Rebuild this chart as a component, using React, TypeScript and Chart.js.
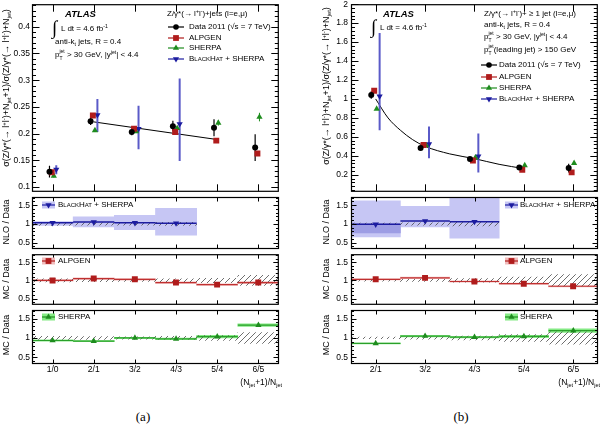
import React, { useEffect, useRef } from 'react';
import { Chart, registerables } from 'chart.js';

Chart.register(...registerables);

const FONT = '"Liberation Sans", Arial, Helvetica, sans-serif';
const SERIF = '"Liberation Serif", "DejaVu Serif", serif';

// ---------------- categories ----------------
const catsA = ['1/0', '2/1', '3/2', '4/3', '5/4', '6/5'];
const binsA = [1, 2, 3, 4, 5, 6];
const catsB = ['2/1', '3/2', '4/3', '5/4', '6/5'];
const binsB = [2, 3, 4, 5, 6];
const nloBinsA = [1, 2, 3, 4];
const nloBinsB = [2, 3, 4];
const innerBinB = [2];

// ---------------- tick labels ----------------
const mainATicks = [0.1, 0.15, 0.2, 0.25, 0.3, 0.35, 0.4];
const mainATickLabels = ['0.1', '0.15', '0.2', '0.25', '0.3', '0.35', '0.4'];
const mainBTicks = [0.2, 0.4, 0.6, 0.8, 1, 1.2, 1.4, 1.6, 1.8, 2];
const mainBTickLabels = ['0.2', '0.4', '0.6', '0.8', '1', '1.2', '1.4', '1.6', '1.8', '2'];
const ratioTicks = [0.5, 1, 1.5];
const ratioTickLabels = ['0.5', '1', '1.5'];

// ---------------- (a) main panel ----------------
const dataA = [0.129, 0.223, 0.203, 0.214, 0.211, 0.174];
const dataAErr = [0.011, 0.007, 0.006, 0.010, 0.016, 0.025];
const alpgenA = [0.128, 0.234, 0.209, 0.203, 0.187, 0.163];
const sherpaA = [0.121, 0.206, 0.204, 0.210, 0.220, 0.231];
const sherpaAErr = [0.003, 0.003, 0.003, 0.004, 0.005, 0.008];
const blackhatA = [0.133, 0.235, 0.209, 0.218];
const blackhatALo = [0.124, 0.203, 0.171, 0.149];
const blackhatAHi = [0.141, 0.265, 0.252, 0.303];
const fitAX = [2, 5];
const fitAY = [0.222, 0.189];

// ---------------- (b) main panel ----------------
const dataB = [1.042, 0.482, 0.367, 0.277, 0.27];
const dataBErr = [0.04, 0.015, 0.012, 0.015, 0.045];
const alpgenB = [1.087, 0.513, 0.35, 0.252, 0.225];
const sherpaB = [0.895, 0.51, 0.38, 0.298, 0.322];
const blackhatB = [1.029, 0.524, 0.395];
const blackhatBLo = [0.67, 0.374, 0.225];
const blackhatBHi = [1.697, 0.71, 0.635];
const fitBX = [2, 2.25, 2.5, 2.75, 3, 3.5, 4, 4.5, 5];
const fitBY = [1.0, 0.8, 0.67, 0.57, 0.5, 0.42, 0.37, 0.31, 0.265];

// ---------------- (a) ratio panels ----------------
const hatchAErr = [0.04, 0.035, 0.03, 0.04, 0.06, 0.14];
const nloARatio = [1.03, 1.05, 1.03, 1.02];
const nloALo = [0.96, 0.92, 0.85, 0.70];
const nloAHi = [1.06, 1.19, 1.23, 1.42];
const alpgenARatio = [1.0, 1.05, 1.03, 0.94, 0.885, 0.94];
const alpgenABand = [0.02, 0.02, 0.02, 0.02, 0.02, 0.03];
const sherpaARatio = [0.935, 0.92, 1.0, 0.976, 1.035, 1.33];
const sherpaABand = [0.015, 0.015, 0.015, 0.02, 0.035, 0.035];

// ---------------- (b) ratio panels ----------------
const hatchBErr = [0.02, 0.03, 0.05, 0.09, 0.16];
const nloBRatio = [0.99, 1.08, 1.06];
const nloBLo = [0.65, 0.92, 0.62];
const nloBHi = [1.62, 1.47, 1.75];
const nloBInnerLo = [0.76];
const nloBInnerHi = [1.0];
const alpgenBRatio = [1.03, 1.07, 0.97, 0.91, 0.84];
const alpgenBBand = [0.015, 0.02, 0.02, 0.02, 0.02];
const sherpaBRatio = [0.86, 1.05, 1.02, 1.04, 1.19];
const sherpaBBand = [0.01, 0.02, 0.02, 0.03, 0.045];

// ---------------- colours ----------------
const C_DATA = '#000000';
const C_ALP = '#b01c1c';
const C_SHE = '#1e8c1e';
const C_BH = '#1c1ca0';
const C_BH_ERR = '#5a5ac8';
const C_BH_BAND = '#c6c6f4';
const C_BH_BAND2 = '#9d9de4';
const C_ALP_BAND = '#f1bcbc';
const C_SHE_BAND = '#84ea84';
const C_ALP_LINE = '#c03030';
const C_SHE_LINE = '#2aa02a';

// ---------------- dataset helpers ----------------
const pts = (xs: number[], ys: number[], off = 0) => xs.map((x, i) => ({ x: x + off, y: ys[i] }));

function markerSet(xs: number[], ys: number[], off: number, style: string, color: string, radius: number, rotation = 0) {
  return {
    type: 'scatter', data: pts(xs, ys, off), pointStyle: style, pointRadius: radius,
    pointBackgroundColor: color, pointBorderColor: color, pointBorderWidth: 0, pointRotation: rotation,
    showLine: false, order: 0,
  };
}
function errorSet(xs: number[], lo: number[], hi: number[], off: number, color: string, width: number) {
  const data: any[] = [];
  xs.forEach((x, i) => { data.push({ x: x + off, y: lo[i] }, { x: x + off, y: hi[i] }, { x: x + off, y: null }); });
  return { type: 'line', data, borderColor: color, borderWidth: width, pointRadius: 0, showLine: true, spanGaps: false, fill: false, order: 1 };
}
function stepSet(xs: number[], ys: number[], color: string, width: number) {
  const data: any[] = [];
  xs.forEach((x, i) => { data.push({ x: x - 0.5, y: ys[i] }, { x: x + 0.5, y: ys[i] }, { x: x + 0.5, y: null }); });
  return { type: 'line', data, borderColor: color, borderWidth: width, pointRadius: 0, showLine: true, spanGaps: false, fill: false, order: 2 };
}
function bandSet(xs: number[], lo: number[], hi: number[], color: any, order = 6) {
  return {
    type: 'bar', data: xs.map((x, i) => ({ x, y: [lo[i], hi[i]] })), backgroundColor: color, borderWidth: 0,
    grouped: false, categoryPercentage: 1, barPercentage: 1, clip: 0, order,
  };
}
function aroundSet(xs: number[], c: number[], e: number[], color: any, order = 6) {
  return bandSet(xs, c.map((v, i) => v - e[i]), c.map((v, i) => v + e[i]), color, order);
}
const hatchSet = (xs: number[], e: number[]) => aroundSet(xs, xs.map(() => 1), e, 'HATCH', 5);
function fitSet(xs: number[], ys: number[]) {
  return { type: 'line', data: pts(xs, ys), borderColor: '#000', borderWidth: 1, pointRadius: 0, showLine: true, cubicInterpolationMode: 'monotone', fill: false, order: 3 };
}

let hatchCache: any = null;
function hatch() {
  if (hatchCache) return hatchCache;
  const c = document.createElement('canvas');
  c.width = 6; c.height = 6;
  const g = c.getContext('2d')!;
  g.strokeStyle = '#555'; g.lineWidth = 0.85;
  g.beginPath();
  g.moveTo(0, 6); g.lineTo(6, 0);
  g.moveTo(-3, 3); g.lineTo(3, -3);
  g.moveTo(3, 9); g.lineTo(9, 3);
  g.stroke();
  hatchCache = g.createPattern(c, 'repeat');
  return hatchCache;
}

// ---------------- frame / ticks plugin ----------------
const rootFramePlugin = {
  id: 'rootFrame',
  afterDatasetsDraw(chart: any, _args: any, o: any) {
    const { ctx, chartArea: a } = chart;
    const xs = chart.scales.x, ys = chart.scales.y;
    const L = a.left + 0.5, R = a.right - 0.5, T = a.top + 0.5, B = a.bottom - 0.5;
    ctx.save();
    ctx.strokeStyle = '#000';
    ctx.lineWidth = 1;
    ctx.beginPath();
    const seg = (x1: number, y1: number, x2: number, y2: number) => { ctx.moveTo(x1, y1); ctx.lineTo(x2, y2); };
    const yTick = (v: number, len: number) => {
      const py = Math.round(ys.getPixelForValue(v)) + 0.5;
      seg(L, py, L + len, py); seg(R, py, R - len, py);
    };
    o.yMajor.forEach((v: number) => yTick(v, o.yMajorLen));
    const lo = Math.ceil(ys.min / o.yMinorStep - 1e-6), hi = Math.floor(ys.max / o.yMinorStep + 1e-6);
    for (let k = lo; k <= hi; k++) {
      const v = k * o.yMinorStep;
      if (o.yMajor.some((m: number) => Math.abs(m - v) < 1e-6)) continue;
      yTick(v, o.yMinorLen);
    }
    o.xMajor.forEach((v: number) => {
      const px = Math.round(xs.getPixelForValue(v)) + 0.5;
      seg(px, B, px, B - o.xLen); seg(px, T, px, T + o.xLen);
    });
    ctx.stroke();
    ctx.lineWidth = 1.2;
    ctx.strokeRect(L, T, R - L, B - T);
    ctx.restore();
  },
};

// ---------------- panel specs ----------------
const colA = { left: 0, w: 283, yAxisW: 32, padRight: 1, yPad: 2 };
const colB = { left: 300, w: 302, yAxisW: 51, padRight: 2, yPad: 3 };
const rowMain = { top: 0, h: 196, padTop: 4, padBottom: 2 };
const rowR1 = { top: 193, h: 60, padTop: 1, padBottom: 2 };
const rowR2 = { top: 250, h: 59, padTop: 1, padBottom: 2 };
const rowR3 = { top: 306, h: 71, padTop: 1, padBottom: 0 };
const X_AXIS_H = 13;
const R_MIN = 0.33, R_MAX = 1.72;

const offA = { d: -0.075, a: -0.02, s: 0.03, b: 0.09 };
const offB = { d: -0.09, a: -0.03, s: 0.02, b: 0.08 };

function specs() {
  const ratioCommon = { yMin: R_MIN, yMax: R_MAX, yTicks: ratioTicks, yLabels: ratioTickLabels, yMinorStep: 0.1, yMajorLen: 5, yMinorLen: 2.5, xLen: 4 };
  const A = { xMin: 0.5, xMax: 6.5, xTicks: binsA, xLabels: catsA };
  const B = { xMin: 1.5, xMax: 6.5, xTicks: binsB, xLabels: catsB };
  return [
    {
      col: colA, row: rowMain, ...A, showX: false,
      yMin: 0.0913, yMax: 0.442, yTicks: mainATicks, yLabels: mainATickLabels, yMinorStep: 0.01, yMajorLen: 7, yMinorLen: 3.5, xLen: 7,
      datasets: [
        markerSet(binsA, dataA, offA.d, 'circle', C_DATA, 3),
        markerSet(binsA, alpgenA, offA.a, 'rect', C_ALP, 4.2),
        markerSet(binsA, sherpaA, offA.s, 'triangle', C_SHE, 3.6),
        markerSet(nloBinsA, blackhatA, offA.b, 'triangle', C_BH, 3.6, 180),
        errorSet(binsA, dataA.map((v, i) => v - dataAErr[i]), dataA.map((v, i) => v + dataAErr[i]), offA.d, C_DATA, 1.2),
        errorSet(binsA, sherpaA.map((v, i) => v - sherpaAErr[i]), sherpaA.map((v, i) => v + sherpaAErr[i]), offA.s, C_SHE, 1),
        errorSet(nloBinsA, blackhatALo, blackhatAHi, offA.b, C_BH_ERR, 2),
        fitSet(fitAX, fitAY),
      ],
    },
    {
      col: colA, row: rowR1, ...A, showX: false, ...ratioCommon,
      datasets: [
        bandSet(nloBinsA, nloALo, nloAHi, C_BH_BAND),
        hatchSet(nloBinsA, hatchAErr.slice(0, 4)),
        stepSet(nloBinsA, nloARatio, C_BH, 1.5),
        markerSet(nloBinsA, nloARatio, 0, 'triangle', C_BH, 3.6, 180),
      ],
    },
    {
      col: colA, row: rowR2, ...A, showX: false, ...ratioCommon,
      datasets: [
        aroundSet(binsA, alpgenARatio, alpgenABand, C_ALP_BAND),
        hatchSet(binsA, hatchAErr),
        stepSet(binsA, alpgenARatio, C_ALP_LINE, 1.2),
        markerSet(binsA, alpgenARatio, 0, 'rect', C_ALP, 4.2),
      ],
    },
    {
      col: colA, row: rowR3, ...A, showX: true, ...ratioCommon,
      datasets: [
        aroundSet(binsA, sherpaARatio, sherpaABand, C_SHE_BAND),
        hatchSet(binsA, hatchAErr),
        stepSet(binsA, sherpaARatio, C_SHE_LINE, 1.2),
        markerSet(binsA, sherpaARatio, 0, 'triangle', C_SHE, 3.6),
      ],
    },
    {
      col: colB, row: rowMain, ...B, showX: false,
      yMin: 0.02, yMax: 2.0, yTicks: mainBTicks, yLabels: mainBTickLabels, yMinorStep: 0.04, yMajorLen: 7, yMinorLen: 3.5, xLen: 7,
      datasets: [
        markerSet(binsB, dataB, offB.d, 'circle', C_DATA, 3),
        markerSet(binsB, alpgenB, offB.a, 'rect', C_ALP, 4.2),
        markerSet(binsB, sherpaB, offB.s, 'triangle', C_SHE, 3.6),
        markerSet(nloBinsB, blackhatB, offB.b, 'triangle', C_BH, 3.6, 180),
        errorSet(binsB, dataB.map((v, i) => v - dataBErr[i]), dataB.map((v, i) => v + dataBErr[i]), offB.d, C_DATA, 1.2),
        errorSet(nloBinsB, blackhatBLo, blackhatBHi, offB.b, C_BH_ERR, 2),
        fitSet(fitBX, fitBY),
      ],
    },
    {
      col: colB, row: rowR1, ...B, showX: false, ...ratioCommon,
      datasets: [
        bandSet(nloBinsB, nloBLo, nloBHi, C_BH_BAND, 7),
        bandSet(innerBinB, nloBInnerLo, nloBInnerHi, C_BH_BAND2, 6),
        hatchSet(nloBinsB, hatchBErr.slice(0, 3)),
        stepSet(nloBinsB, nloBRatio, C_BH, 1.5),
        markerSet(nloBinsB, nloBRatio, 0, 'triangle', C_BH, 3.6, 180),
      ],
    },
    {
      col: colB, row: rowR2, ...B, showX: false, ...ratioCommon,
      datasets: [
        aroundSet(binsB, alpgenBRatio, alpgenBBand, C_ALP_BAND),
        hatchSet(binsB, hatchBErr),
        stepSet(binsB, alpgenBRatio, C_ALP_LINE, 1.2),
        markerSet(binsB, alpgenBRatio, 0, 'rect', C_ALP, 4.2),
      ],
    },
    {
      col: colB, row: rowR3, ...B, showX: true, ...ratioCommon,
      datasets: [
        aroundSet(binsB, sherpaBRatio, sherpaBBand, C_SHE_BAND),
        hatchSet(binsB, hatchBErr),
        stepSet(binsB, sherpaBRatio, C_SHE_LINE, 1.2),
        markerSet(binsB, sherpaBRatio, 0, 'triangle', C_SHE, 3.6),
      ],
    },
  ];
}

function buildConfig(p: any): any {
  const datasets = p.datasets.map((d: any) => (d.backgroundColor === 'HATCH' ? { ...d, backgroundColor: hatch() } : d));
  return {
    type: 'scatter',
    data: { datasets },
    options: {
      responsive: false,
      animation: false,
      devicePixelRatio: 1,
      events: [],
      layout: { padding: { left: 0, top: p.row.padTop, right: p.col.padRight, bottom: p.row.padBottom } },
      plugins: {
        legend: { display: false },
        tooltip: { enabled: false },
        rootFrame: {
          yMajor: p.yTicks, yMinorStep: p.yMinorStep, yMajorLen: p.yMajorLen, yMinorLen: p.yMinorLen,
          xMajor: p.xTicks, xLen: p.xLen,
        },
      },
      scales: {
        x: {
          type: 'linear', min: p.xMin, max: p.xMax, offset: false, display: p.showX,
          grid: { display: false, drawTicks: false }, border: { display: false },
          afterBuildTicks: (s: any) => { s.ticks = p.xTicks.map((v: number) => ({ value: v })); },
          afterFit: (s: any) => { if (p.showX) s.height = X_AXIS_H; },
          ticks: {
            autoSkip: false, maxRotation: 0, minRotation: 0, padding: 1, color: '#000',
            font: { family: FONT, size: 8.5 },
            callback: (_v: any, i: number) => p.xLabels[i],
          },
        },
        y: {
          type: 'linear', min: p.yMin, max: p.yMax, display: true,
          grid: { display: false, drawTicks: false }, border: { display: false },
          afterBuildTicks: (s: any) => { s.ticks = p.yTicks.map((v: number) => ({ value: v })); },
          afterFit: (s: any) => { s.width = p.col.yAxisW; },
          ticks: {
            autoSkip: false, padding: p.col.yPad, color: '#000',
            font: { family: FONT, size: 8.5, lineHeight: 0.2 },
            callback: (_v: any, i: number) => p.yLabels[i],
          },
        },
      },
    },
    plugins: [rootFramePlugin],
  };
}

function ChartPanel({ p }: { p: any }) {
  const ref = useRef<HTMLCanvasElement>(null);
  useEffect(() => {
    const chart = new Chart(ref.current as HTMLCanvasElement, buildConfig(p));
    return () => chart.destroy();
  }, []);
  return (
    <canvas
      ref={ref}
      width={p.col.w}
      height={p.row.h}
      style={{ position: 'absolute', left: p.col.left, top: p.row.top, width: p.col.w, height: p.row.h }}
    />
  );
}

// ---------------- text helpers ----------------
const Sup = ({ children }: any) => <span style={{ fontSize: '0.65em', position: 'relative', top: '-0.55em' }}>{children}</span>;
const Sub = ({ children }: any) => <span style={{ fontSize: '0.65em', position: 'relative', top: '0.35em' }}>{children}</span>;
const SubSup = ({ sup, sub }: any) => (
  <span style={{ position: 'relative', display: 'inline-block', fontSize: '0.62em', lineHeight: 1 }}>
    <span style={{ position: 'relative', top: '-0.75em' }}>{sup}</span>
    <span style={{ position: 'absolute', left: 0, top: '0.55em' }}>{sub}</span>
  </span>
);

function Txt({ x, y, size = 8, bold = false, italic = false, align = 'left', family = FONT, children }: any) {
  const tx = align === 'right' ? '-100%' : align === 'center' ? '-50%' : '0';
  return (
    <div
      style={{
        position: 'absolute', left: x, top: y, transform: `translate(${tx}, -50%)`,
        fontFamily: family, fontSize: size, fontWeight: bold ? 'bold' : 'normal', fontStyle: italic ? 'italic' : 'normal',
        lineHeight: 1, whiteSpace: 'nowrap', color: '#000',
      }}
    >
      {children}
    </div>
  );
}

function VTitle({ x, y, size = 9, children }: any) {
  return (
    <div
      style={{
        position: 'absolute', left: x, top: y, transform: 'translate(-50%, -50%) rotate(-90deg)',
        fontFamily: FONT, fontSize: size, lineHeight: 1, whiteSpace: 'nowrap', color: '#000',
      }}
    >
      {children}
    </div>
  );
}

function MarkerShape({ kind, color, cx, cy }: any) {
  if (kind === 'circle') return <circle cx={cx} cy={cy} r={2.8} fill={color} />;
  if (kind === 'square') return <rect x={cx - 2.9} y={cy - 2.9} width={5.8} height={5.8} fill={color} />;
  if (kind === 'tri') return <polygon points={`${cx},${cy - 3.6} ${cx - 3.1},${cy + 1.8} ${cx + 3.1},${cy + 1.8}`} fill={color} />;
  return <polygon points={`${cx},${cy + 3.6} ${cx - 3.1},${cy - 1.8} ${cx + 3.1},${cy - 1.8}`} fill={color} />;
}

function LegSym({ x, y, w, kind, color, band }: any) {
  return (
    <svg style={{ position: 'absolute', left: x, top: y - 5 }} width={w} height={10}>
      {band && <rect x={0} y={1.5} width={w} height={7} fill={band} />}
      <line x1={0} y1={5} x2={w} y2={5} stroke={color} strokeWidth={1.2} />
      <MarkerShape kind={kind} color={color} cx={w / 2} cy={5} />
    </svg>
  );
}

const BH = () => (
  <>
    <span style={{ fontVariant: 'small-caps' }}>BlackHat</span> + SHERPA
  </>
);
const LL = () => (
  <>
    l<Sup>+</Sup>l<Sup>-</Sup>
  </>
);
const YTitle = () => (
  <>
    σ(Z/γ*(→ <LL />)+N<Sub>jet</Sub>+1)/σ(Z/γ*(→ <LL />)+N<Sub>jet</Sub>)
  </>
);
const XTitle = () => (
  <>
    (N<Sub>jet</Sub>+1)/N<Sub>jet</Sub>
  </>
);
const PtLine = () => (
  <>
    p<SubSup sup="jet" sub="T" /> &gt; 30 GeV, |y<Sup>jet</Sup>| &lt; 4.4
  </>
);

export default function App() {
  const panels = specs();
  return (
    <div style={{ position: 'fixed', left: 0, top: 0, width: 604, height: 425, background: '#fff', overflow: 'hidden' }}>
      {panels.map((p, i) => (
        <ChartPanel key={i} p={p} />
      ))}

      {/* ---------- (a) annotations ---------- */}
      <Txt x={65} y={14} size={9.5} bold italic>ATLAS</Txt>
      <Txt x={52} y={27} size={19} family={SERIF}>∫</Txt>
      <Txt x={61} y={29}>L dt = 4.6 fb<Sup>-1</Sup></Txt>
      <Txt x={55} y={42}>anti-k<Sub>t</Sub> jets, R = 0.4</Txt>
      <Txt x={55} y={55}><PtLine /></Txt>

      <Txt x={167} y={14}>Z/γ*(→ <LL />)+jets (l=e,μ)</Txt>
      <LegSym x={168} y={27} w={16} kind="circle" color={C_DATA} />
      <Txt x={189} y={27}>Data 2011 (√s = 7 TeV)</Txt>
      <LegSym x={168} y={38} w={16} kind="square" color={C_ALP} />
      <Txt x={189} y={38}>ALPGEN</Txt>
      <LegSym x={168} y={48} w={16} kind="tri" color={C_SHE} />
      <Txt x={189} y={48}>SHERPA</Txt>
      <LegSym x={168} y={59} w={16} kind="itri" color={C_BH} />
      <Txt x={189} y={59}><BH /></Txt>

      <LegSym x={42} y={205} w={13} kind="itri" color={C_BH} band={C_BH_BAND} />
      <Txt x={58} y={205}><BH /></Txt>
      <LegSym x={42} y={261} w={13} kind="square" color={C_ALP} band={C_ALP_BAND} />
      <Txt x={58} y={261}>ALPGEN</Txt>
      <LegSym x={42} y={317} w={13} kind="tri" color={C_SHE} band={C_SHE_BAND} />
      <Txt x={58} y={317}>SHERPA</Txt>

      <VTitle x={6} y={88}><YTitle /></VTitle>
      <VTitle x={6} y={222}>NLO / Data</VTitle>
      <VTitle x={6} y={279}>MC / Data</VTitle>
      <VTitle x={6} y={335}>MC / Data</VTitle>
      <Txt x={282} y={382} size={8.5} align="right"><XTitle /></Txt>
      <Txt x={143} y={416} size={13} family={SERIF} align="center">(a)</Txt>

      {/* ---------- (b) annotations ---------- */}
      <Txt x={383} y={14} size={9.5} bold italic>ATLAS</Txt>
      <Txt x={371} y={26} size={19} family={SERIF}>∫</Txt>
      <Txt x={380} y={28}>L dt = 4.6 fb<Sup>-1</Sup></Txt>

      <Txt x={484} y={14}>Z/γ*(→ <LL />)+ ≥ 1 jet (l=e,μ)</Txt>
      <Txt x={484} y={25}>anti-k<Sub>t</Sub> jets, R = 0.4</Txt>
      <Txt x={484} y={37}><PtLine /></Txt>
      <Txt x={484} y={50}>p<SubSup sup="jet" sub="T" />(leading jet) &gt; 150 GeV</Txt>
      <LegSym x={481} y={65} w={16} kind="circle" color={C_DATA} />
      <Txt x={499} y={65}>Data 2011 (√s = 7 TeV)</Txt>
      <LegSym x={481} y={77} w={16} kind="square" color={C_ALP} />
      <Txt x={499} y={77}>ALPGEN</Txt>
      <LegSym x={481} y={88} w={16} kind="tri" color={C_SHE} />
      <Txt x={499} y={88}>SHERPA</Txt>
      <LegSym x={481} y={99} w={16} kind="itri" color={C_BH} />
      <Txt x={499} y={99}><BH /></Txt>

      <LegSym x={505} y={205} w={13} kind="itri" color={C_BH} band={C_BH_BAND} />
      <Txt x={520} y={205}><BH /></Txt>
      <LegSym x={505} y={261} w={13} kind="square" color={C_ALP} band={C_ALP_BAND} />
      <Txt x={520} y={261}>ALPGEN</Txt>
      <LegSym x={505} y={317} w={13} kind="tri" color={C_SHE} band={C_SHE_BAND} />
      <Txt x={520} y={317}>SHERPA</Txt>

      <VTitle x={326} y={86}><YTitle /></VTitle>
      <VTitle x={326} y={222}>NLO / Data</VTitle>
      <VTitle x={326} y={279}>MC / Data</VTitle>
      <VTitle x={326} y={335}>MC / Data</VTitle>
      <Txt x={600} y={382} size={8.5} align="right"><XTitle /></Txt>
      <Txt x={461} y={416} size={13} family={SERIF} align="center">(b)</Txt>
    </div>
  );
}
